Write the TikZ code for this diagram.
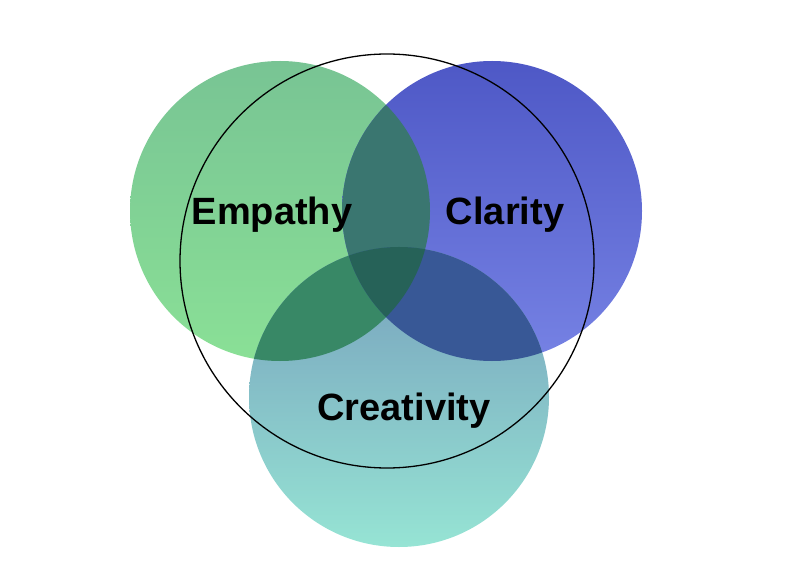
\documentclass[tikz,border=0pt]{standalone}
\usepackage{fontspec}
\setmainfont{Liberation Sans}
\definecolor{empathygreen}{RGB}{120,196,148}
\definecolor{empathylight}{RGB}{138,224,150}
\definecolor{claritydark}{RGB}{78,88,198}
\definecolor{claritylight}{RGB}{118,130,228}
\definecolor{creativetop}{RGB}{118,158,188}
\definecolor{creativebottom}{RGB}{150,228,212}
\definecolor{mixgb}{RGB}{58,118,112}
\definecolor{mixgt}{RGB}{56,136,102}
\definecolor{mixbt}{RGB}{56,88,150}
\definecolor{mixall}{RGB}{38,98,88}
\begin{document}
\begin{tikzpicture}[
    x=1pt, y=-1pt,
    blob/.style={circle, inner sep=0pt, outer sep=0pt, minimum size=300pt},
    word/.style={anchor=base, font=\fontsize{38}{40}\selectfont\bfseries}
  ]
  \useasboundingbox (0,0) rectangle (800,577);
  % Empathy
  \node[blob, top color=empathygreen, bottom color=empathylight] (empathy) at (280,211) {};
  % Clarity
  \node[blob, shading angle=200, top color=claritydark, bottom color=claritylight] (clarity) at (492,211) {};
  % Creativity
  \node[blob, top color=creativetop, bottom color=creativebottom] (creativity) at (399,397) {};
  % Overlaps
  \begin{scope}
    \clip (empathy.center) circle[radius=150pt];
    \fill[mixgb] (clarity.center) circle[radius=150pt];
    \fill[mixgt] (creativity.center) circle[radius=150pt];
  \end{scope}
  \begin{scope}
    \clip (clarity.center) circle[radius=150pt];
    \fill[mixbt] (creativity.center) circle[radius=150pt];
    \clip (empathy.center) circle[radius=150pt];
    \fill[mixall] (creativity.center) circle[radius=150pt];
  \end{scope}
  % Outline
  \node[draw, circle, inner sep=0pt, minimum size=414pt, line width=1.3pt] (frame) at (387,261) {};
  % Labels
  \node[word] (empathylabel) at (272,225) {Empathy};
  \node[word] (claritylabel) at (505,225) {Clarity};
  \node[word] (creativitylabel) at (404,420) {Creativity};
\end{tikzpicture}
\end{document}
